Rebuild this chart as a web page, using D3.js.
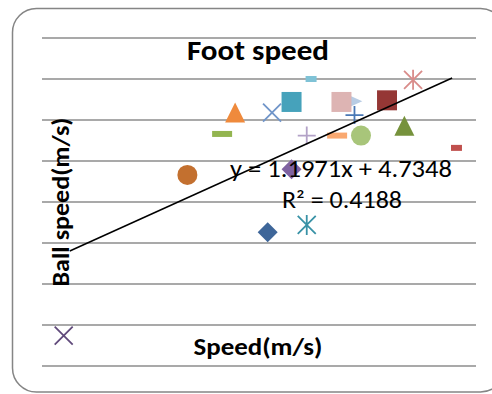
<!DOCTYPE html>
<html>
<head>
    <title>Foot speed</title>
    <script src="https://d3js.org/d3.v7.min.js"></script>
    <style>
        body { margin: 0; background: #fff; }
        text { font-family: Calibri, Carlito, Lato, sans-serif; }
    </style>
</head>
<body>
    <svg id="chart"></svg>
    <script>
        // values (speed in m/s)
        const speed = [0.53, 1.10, 1.26, 1.32, 1.49, 1.58, 1.67, 1.65, 1.58, 1.86, 1.81, 1.87, 1.79, 1.90, 2.02, 2.14, 2.10, 2.34, 1.47, 1.65];
        const ballSpeed = [4.37, 6.33, 6.83, 7.09, 7.09, 7.22, 7.50, 6.81, 6.40, 7.23, 7.22, 7.06, 6.81, 6.81, 7.24, 7.49, 6.93, 6.66, 5.63, 5.72];
        const markers = ['x', 'circle', 'dash', 'triangle', 'x', 'square', 'shortdash', 'plus', 'diamond', 'triright', 'square', 'plus', 'dash', 'circle', 'square', 'star', 'triangle', 'shortdash', 'diamond', 'star'];
        const colors = ['#604a7b', '#c3702f', '#93b550', '#ef8a3c', '#7095c9', '#46a2bb', '#7fc2d6', '#b3a2c7', '#7f62a1', '#b8cce4', '#ddb4b3', '#4a78b5', '#f9a870', '#a8c57a', '#953735', '#d98c8a', '#76923c', '#c0504d', '#3e6699', '#3892a6'];

        const gridValues = [4, 4.5, 5, 5.5, 6, 6.5, 7, 7.5, 8];
        const slope = 1.1971;
        const intercept = 4.7348;
        const trendX = [0.558, 2.32];

        const width = 492;
        const height = 394;

        const svg = d3.select('#chart')
            .attr('width', width)
            .attr('height', height);

        // outer chart frame (rounded, runs off the right edge)
        svg.append('rect')
            .attr('x', 12.5).attr('y', 8.5)
            .attr('width', 492).attr('height', 383.5)
            .attr('rx', 24).attr('ry', 24)
            .attr('fill', '#fff')
            .attr('stroke', '#858585')
            .attr('stroke-width', 1.5);

        const x = d3.scaleLinear().domain([0.43, 2.43]).range([42, 476]);
        const y = d3.scaleLinear().domain([4, 8]).range([366, 38]);

        // horizontal gridlines
        svg.append('g')
            .selectAll('line')
            .data(gridValues)
            .enter()
            .append('line')
            .attr('x1', x.range()[0])
            .attr('x2', x.range()[1])
            .attr('y1', d => y(d))
            .attr('y2', d => y(d))
            .attr('stroke', '#8c8c8c')
            .attr('stroke-width', 1.6);

        // marker shapes, drawn around 0,0
        function markerPath(type) {
            const p = d3.path();
            switch (type) {
                case 'diamond':
                    p.moveTo(0, -10); p.lineTo(10, 0); p.lineTo(0, 10); p.lineTo(-10, 0); p.closePath();
                    break;
                case 'square':
                    p.rect(-10, -10, 20, 20);
                    break;
                case 'triangle':
                    p.moveTo(0, -10); p.lineTo(10, 10); p.lineTo(-10, 10); p.closePath();
                    break;
                case 'triright':
                    p.moveTo(-10, -9); p.lineTo(10, 0); p.lineTo(-10, 9); p.closePath();
                    break;
                case 'circle':
                    p.arc(0, 0, 10, 0, 2 * Math.PI);
                    break;
                case 'dash':
                    p.rect(-10, -3, 20, 6);
                    break;
                case 'shortdash':
                    p.rect(-5.5, -3, 11, 6);
                    break;
                case 'x':
                    p.moveTo(-9, -9); p.lineTo(9, 9); p.moveTo(9, -9); p.lineTo(-9, 9);
                    break;
                case 'plus':
                    p.moveTo(-9, 0); p.lineTo(9, 0); p.moveTo(0, -9); p.lineTo(0, 9);
                    break;
                case 'star':
                    p.moveTo(-9, -9); p.lineTo(9, 9); p.moveTo(9, -9); p.lineTo(-9, 9);
                    p.moveTo(0, -10); p.lineTo(0, 10);
                    break;
            }
            return p.toString();
        }

        const lineMarkers = ['x', 'plus', 'star'];
        const points = speed.map((s, i) => ({ x: s, y: ballSpeed[i], type: markers[i], color: colors[i] }));

        svg.append('g')
            .selectAll('path')
            .data(points)
            .enter()
            .append('path')
            .attr('transform', d => `translate(${x(d.x)},${y(d.y)})`)
            .attr('d', d => markerPath(d.type))
            .attr('fill', d => lineMarkers.includes(d.type) ? 'none' : d.color)
            .attr('stroke', d => lineMarkers.includes(d.type) ? d.color : 'none')
            .attr('stroke-width', 1.8)
            .attr('stroke-linecap', 'butt');

        // linear trendline
        svg.append('line')
            .attr('x1', x(trendX[0]))
            .attr('y1', y(slope * trendX[0] + intercept))
            .attr('x2', x(trendX[1]))
            .attr('y2', y(slope * trendX[1] + intercept))
            .attr('stroke', '#000')
            .attr('stroke-width', 1.5);

        // titles and labels; the original font is wider, so stretch to its measured width
        function label(txt, size, bold, len) {
            return svg.append('text')
                .attr('text-anchor', 'middle')
                .attr('font-weight', bold ? 'bold' : 'normal')
                .attr('font-size', size)
                .attr('textLength', len)
                .attr('lengthAdjust', 'spacingAndGlyphs')
                .text(txt);
        }

        label('Foot speed', 28, true, 142).attr('x', 258).attr('y', 60);
        label('Speed(m/s)', 23.5, true, 129).attr('x', 258).attr('y', 355);
        label('Ball speed(m/s)', 23.5, true, 169).attr('transform', 'translate(69,202) rotate(-90)');
        label(`y = ${slope}x + ${intercept}`, 23.5, false, 222).attr('x', 341).attr('y', 177);
        label('R² = 0.4188', 23.5, false, 120).attr('x', 342).attr('y', 208);
    </script>
</body>
</html>
